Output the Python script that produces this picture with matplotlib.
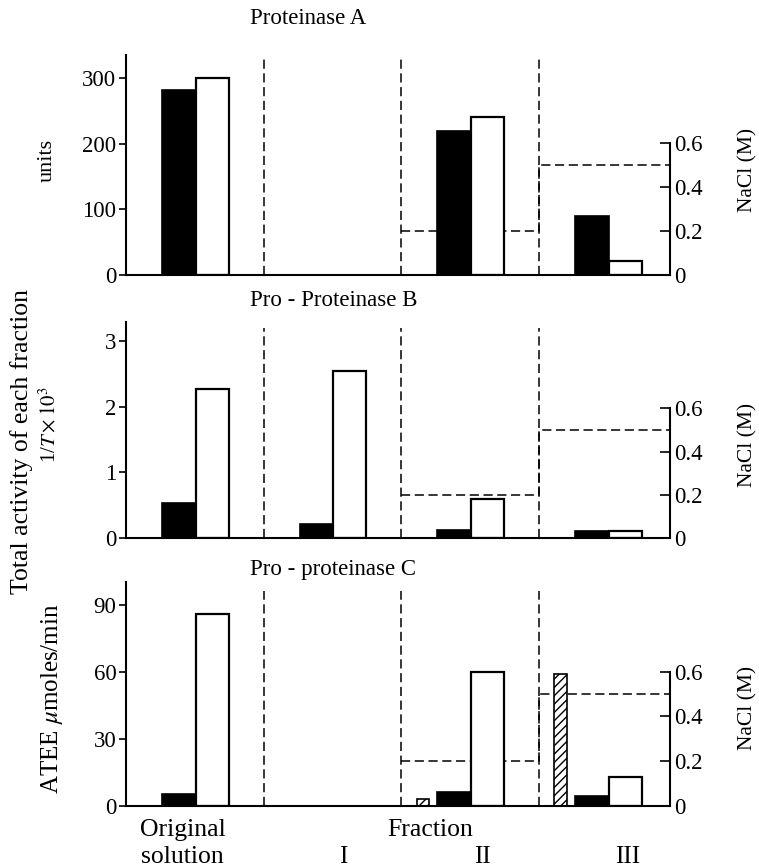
import numpy as np
import matplotlib
matplotlib.use('Agg')
import matplotlib.pyplot as plt

plt.rcParams['font.family'] = ['Liberation Serif', 'DejaVu Serif']
plt.rcParams['mathtext.fontset'] = 'stix'
plt.rcParams['hatch.linewidth'] = 1.0

# fractions: Original solution, I, II, III
fractions = ['Original\nsolution', 'I', 'II', 'III']
titles = ['Proteinase A', 'Pro - Proteinase B', 'Pro - proteinase C']

# black / white / hatched bars per panel
black_A = [282, 0, 220, 90]
white_A = [300, 0, 241, 22]
black_B = [0.53, 0.21, 0.12, 0.11]
white_B = [2.27, 2.54, 0.59, 0.11]
black_C = [5.4, 0, 6.4, 4.5]
white_C = [85.8, 0, 60, 13]
hatch_C = [0, 0, 3.3, 59]

# NaCl step gradient (M)
nacl_edges = [2, 3, 3.95]
nacl_vals = [0.2, 0.5]

yticks_A = [0, 100, 200, 300]
yticks_B = [0, 1, 2, 3]
yticks_C = [0, 30, 60, 90]
nacl_ticks = [0, 0.2, 0.4, 0.6]

W, H = 759, 868
fig = plt.figure(figsize=(W / 100, H / 100), dpi=100)

def px_axes(left, right, top, bottom):
    return fig.add_axes([left / W, 1 - bottom / H, (right - left) / W, (bottom - top) / H])

def fx(x):
    return x / W

def fy(y):
    return 1 - y / H

panels = [
    (55, 275, 335, yticks_A, black_A, white_A, None, 1.0),
    (322, 538, 3.29, yticks_B, black_B, white_B, None, 0.97),
    (582, 806, 100.3, yticks_C, black_C, white_C, hatch_C, 0.96),
]

dash = (0, (6, 3))
xpos = np.arange(4)
for top, bot, ymax, yt, blk, wht, hat, dtop in panels:
    ax = px_axes(126, 670, top, bot)
    ax2 = ax.twinx()
    ax.set_zorder(ax2.get_zorder() + 1)
    ax.patch.set_visible(False)

    ax.set_xlim(0, 3.95)
    ax.set_ylim(0, ymax)
    ax2.set_ylim(0, 1.0)

    # NaCl step line
    ax2.stairs(nacl_vals, nacl_edges, baseline=None, color='black', lw=1.1, linestyle=dash)

    # dividers
    ax.vlines([1, 2, 3], 0, ymax * dtop, colors='black', lw=1.1, linestyles=dash)

    b = np.array(blk)
    w = np.array(wht)
    ax.bar((xpos + 0.385)[b > 0], b[b > 0], width=0.25, color='black', edgecolor='black', lw=1.2)
    ax.bar((xpos + 0.625)[w > 0], w[w > 0], width=0.24, color='white', edgecolor='black', lw=1.6)
    if hat is not None:
        h = np.array(hat)
        m = h > 0
        ax.bar((xpos + 0.155)[m], h[m], width=0.09, color='white', edgecolor='black',
               lw=1.2, hatch='////')

    for s in ['top', 'right']:
        ax.spines[s].set_visible(False)
    ax.spines['left'].set_linewidth(1.5)
    ax.spines['bottom'].set_linewidth(1.5)
    ax.set_xticks([])
    ax.set_yticks(yt)
    ax.set_yticklabels([str(v) for v in yt])
    ax.tick_params(axis='y', direction='out', length=5, width=1.2, labelsize=16.5, pad=2)

    for s in ['top', 'left', 'bottom']:
        ax2.spines[s].set_visible(False)
    ax2.spines['right'].set_bounds(0, 0.6)
    ax2.spines['right'].set_linewidth(1.5)
    ax2.set_yticks(nacl_ticks)
    ax2.set_yticklabels(['0', '0.2', '0.4', '0.6'])
    ax2.tick_params(axis='y', direction='in', length=7, width=1.2, labelsize=16.5, pad=3)
    ax2.set_xticks([])

# panel titles
for t, y in zip(titles, [19, 300, 570]):
    fig.text(fx(250), fy(y), t, ha='left', va='center', fontsize=16.5)

# NaCl labels
for y in [170, 445, 708]:
    fig.text(fx(748), fy(y), 'NaCl (M)', rotation=90, ha='center', va='center', fontsize=15.5)

# left labels
fig.text(fx(47), fy(160), 'units', rotation=90, ha='center', va='center', fontsize=16)
fig.text(fx(50), fy(425), r'1/$T\times10^3$', rotation=90, ha='center', va='center', fontsize=15)
fig.text(fx(52), fy(699), r'ATEE $\mu$moles/min', rotation=90, ha='center', va='center', fontsize=18)
fig.text(fx(22), fy(441), 'Total activity of each fraction', rotation=90,
         ha='center', va='center', fontsize=18.5)

# bottom labels
fig.text(fx(183), fy(830), 'Original', ha='center', va='center', fontsize=18.5)
fig.text(fx(182), fy(857), 'solution', ha='center', va='center', fontsize=18.5)
fig.text(fx(430), fy(830), 'Fraction', ha='center', va='center', fontsize=18.5)
for lab, x in zip(fractions[1:], [343, 482, 628]):
    fig.text(fx(x), fy(857), lab, ha='center', va='center', fontsize=18)

fig.savefig('out.png', dpi=100)
